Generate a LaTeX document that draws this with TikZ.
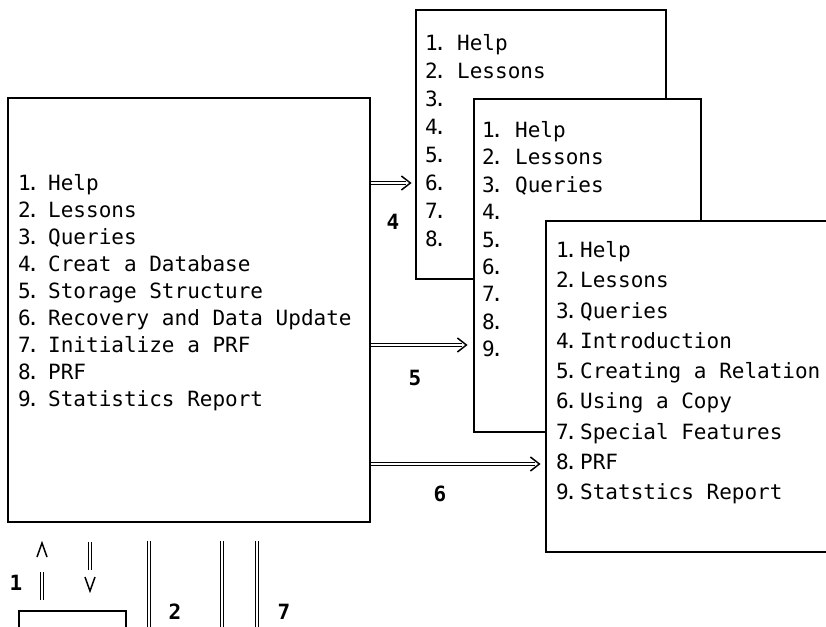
\documentclass[tikz,border=0pt]{standalone}
\usepackage{fontspec}
\setmonofont{DejaVu Sans Mono}
\newcommand\rchev[1]{\draw[chev] ([shift={(-9pt,7pt)}]#1) -- (#1) -- ([shift={(-9pt,-7pt)}]#1);}
\newcommand\numtxt[3]{\makebox[#1][l]{#2\kern-4pt.}#3}
\begin{document}
\begin{tikzpicture}[x=1pt,y=-1pt,
  font=\ttfamily\fontsize{21}{25}\selectfont,
  frame/.style={draw, line width=1.2pt, fill=white, inner sep=0pt},
  item/.style={anchor=west, inner sep=0pt, text height=15pt, text depth=0pt},
  dbl/.style={double, double distance=2pt, line width=1pt},
  chev/.style={line width=1.5pt},
  lbl/.style={inner sep=0pt, font=\ttfamily\bfseries\fontsize{21}{25}\selectfont}]
\clip (0,0) rectangle (826,626);
\fill[white] (0,0) rectangle (826,626);

% main menu
\node[frame, minimum width=362pt, minimum height=424pt] (main) at (189,310) {};
\foreach \t [count=\i] in {Help,Lessons,Queries,Creat a Database,Storage Structure,Recovery and Data Update,Initialize a PRF,PRF,Statistics Report}
  \node[item] (m\i) at (18,{183+27*(\i-1)}) {\numtxt{30pt}{\i}{\t}};

% box A
\node[frame, minimum width=250pt, minimum height=269pt] (boxA) at (541,144.5) {};
\foreach \t [count=\i] in {Help,Lessons,{},{},{},{},{},{}}
  \node[item] (a\i) at (425,{43+28*(\i-1)}) {\numtxt{32pt}{\i}{\t}};

% box B
\node[frame, minimum width=227pt, minimum height=333pt] (boxB) at (587.5,265.5) {};
\foreach \t [count=\i] in {Help,Lessons,Queries,{},{},{},{},{},{}}
  \node[item] (b\i) at (482,{130+27.4*(\i-1)}) {\numtxt{33pt}{\i}{\t}};

% box C
\node[frame, minimum width=314pt, minimum height=331pt] (boxC) at (703,386.5) {};
\foreach \t [count=\i] in {Help,Lessons,Queries,Introduction,Creating a Relation,Using a Copy,Special Features,PRF,Statstics Report}
  \node[item] (c\i) at (556,{250+30.25*(\i-1)}) {\numtxt{24pt}{\i}{\t}};

% arrows to the right
\coordinate (t4) at ([xshift=-5pt]boxA.west |- m1);
\coordinate (s4) at ([xshift=-9pt]boxA.west |- m1);
\draw[dbl] (main.east |- m1) -- (s4);
\rchev{t4}
\node[lbl] (l4) at (393,222) {4};

\coordinate (t5) at ([xshift=-7pt]boxB.west |- m7);
\coordinate (s5) at ([xshift=-11pt]boxB.west |- m7);
\draw[dbl] (main.east |- m7) -- (s5);
\rchev{t5}
\node[lbl] (l5) at (415,378) {5};

\coordinate (y6) at (0,464);
\coordinate (t6) at ([xshift=-6pt]boxC.west |- y6);
\coordinate (s6) at ([xshift=-10pt]boxC.west |- y6);
\draw[dbl] (main.east |- y6) -- (s6);
\rchev{t6}
\node[lbl] (l6) at (440,494) {6};

% bottom part
\node[frame, minimum width=107pt, minimum height=30pt] (sb) at (72.5,626) {};
\coordinate (u1a) at (42,600);
\coordinate (u1b) at (42,572);
\draw[dbl] (u1a) -- (u1b);
\draw[chev] (37,557) -- (42,543) -- (47,557);
\node[lbl] (l1) at (16,583) {1};

\coordinate (d1a) at (90,542);
\coordinate (d1b) at (90,570);
\draw[dbl] (d1a) -- (d1b);
\draw[chev] (85,577) -- (90,591) -- (95,577);

\coordinate (v2a) at (149,541);
\coordinate (v2b) at (149,630);
\draw[dbl] (v2a) -- (v2b);
\node[lbl] (l2) at (175,612) {2};

\coordinate (v7a) at (222,541);
\coordinate (v7b) at (222,630);
\draw[dbl] (v7a) -- (v7b);
\coordinate (v8a) at (257,541);
\coordinate (v8b) at (257,630);
\draw[dbl] (v8a) -- (v8b);
\node[lbl] (l7) at (284,612) {7};
\end{tikzpicture}
\end{document}
